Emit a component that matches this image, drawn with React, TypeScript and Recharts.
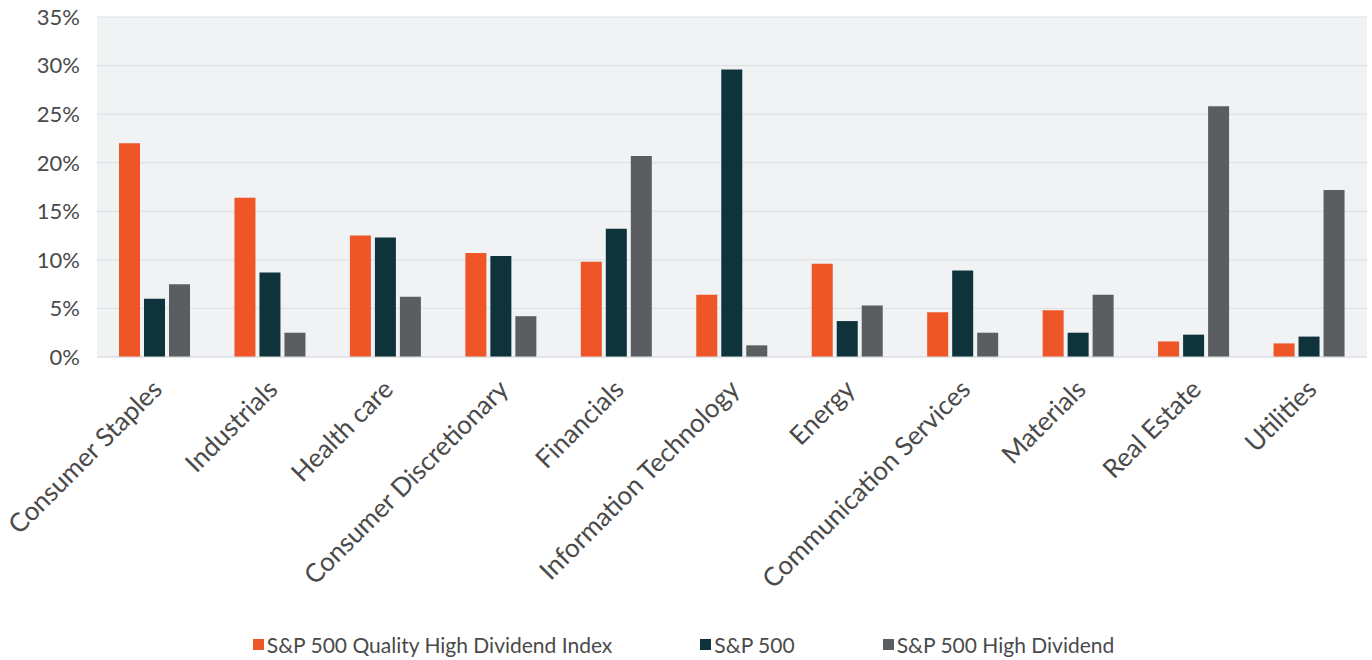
import React from 'react';
import { BarChart, Bar, XAxis, YAxis, CartesianGrid, Legend } from 'recharts';

const categories = [
  'Consumer Staples',
  'Industrials',
  'Health care',
  'Consumer Discretionary',
  'Financials',
  'Information Technology',
  'Energy',
  'Communication Services',
  'Materials',
  'Real Estate',
  'Utilities',
];

const qualityHighDividend = [22.0, 16.4, 12.5, 10.7, 9.8, 6.4, 9.6, 4.6, 4.8, 1.6, 1.4];
const sp500 = [6.0, 8.7, 12.3, 10.4, 13.2, 29.6, 3.7, 8.9, 2.5, 2.3, 2.1];
const sp500HighDividend = [7.5, 2.5, 6.2, 4.2, 20.7, 1.2, 5.3, 2.5, 6.4, 25.8, 17.2];

const yTicks = [0, 5, 10, 15, 20, 25, 30, 35];

const seriesNames = ['S&P 500 Quality High Dividend Index', 'S&P 500', 'S&P 500 High Dividend'];
const seriesColors = ['#EE5527', '#0F333A', '#5A5E60'];

const data = categories.map((c, i) => ({
  name: c,
  q: qualityHighDividend[i],
  sp: sp500[i],
  hd: sp500HighDividend[i],
}));

const FONT = 'Lato, "Open Sans", sans-serif';

const XTick = (props: any) => {
  const { x, y, payload } = props;
  const ax = x + 9;
  const ay = y + 26;
  return (
    <text
      x={ax}
      y={ay}
      transform={`rotate(-45, ${ax}, ${ay})`}
      textAnchor="end"
      fill="#4a4a4a"
      fontSize={26}
      fontFamily={FONT}
    >
      {payload.value}
    </text>
  );
};

const LegendContent = () => (
  <div
    style={{
      display: 'flex',
      justifyContent: 'center',
      alignItems: 'center',
      paddingTop: 22,
      fontFamily: FONT,
      fontSize: 21,
      color: '#4a4a4a',
    }}
  >
    {seriesNames.map((n, i) => (
      <div key={n} style={{ display: 'flex', alignItems: 'center', marginLeft: i === 0 ? 0 : 88 }}>
        <div style={{ width: 11, height: 11, background: seriesColors[i], marginRight: 3 }} />
        <span>{n}</span>
      </div>
    ))}
  </div>
);

export default function App() {
  return (
    <div style={{ position: 'absolute', left: 0, top: 0, width: 1372, height: 660, background: '#fff' }}>
      <BarChart
        width={1372}
        height={660}
        data={data}
        margin={{ top: 17, right: 5, left: 0, bottom: 0 }}
        barSize={21}
        barGap={4}
      >
        <CartesianGrid vertical={false} stroke="#dcdfe2" fill="#f0f2f4" />
        <XAxis
          dataKey="name"
          interval={0}
          tick={<XTick />}
          tickLine={false}
          axisLine={{ stroke: '#dcdfe2' }}
          height={253}
        />
        <YAxis
          width={97}
          domain={[0, 35]}
          ticks={yTicks}
          tickFormatter={(v: number) => `${v}%`}
          axisLine={false}
          tickLine={false}
          tickSize={0}
          tickMargin={17}
          tick={{ fill: '#4a4a4a', fontSize: 22, fontFamily: FONT }}
        />
        <Legend verticalAlign="bottom" height={50} content={<LegendContent />} />
        <Bar dataKey="q" name={seriesNames[0]} fill={seriesColors[0]} isAnimationActive={false} />
        <Bar dataKey="sp" name={seriesNames[1]} fill={seriesColors[1]} isAnimationActive={false} />
        <Bar dataKey="hd" name={seriesNames[2]} fill={seriesColors[2]} isAnimationActive={false} />
      </BarChart>
    </div>
  );
}
